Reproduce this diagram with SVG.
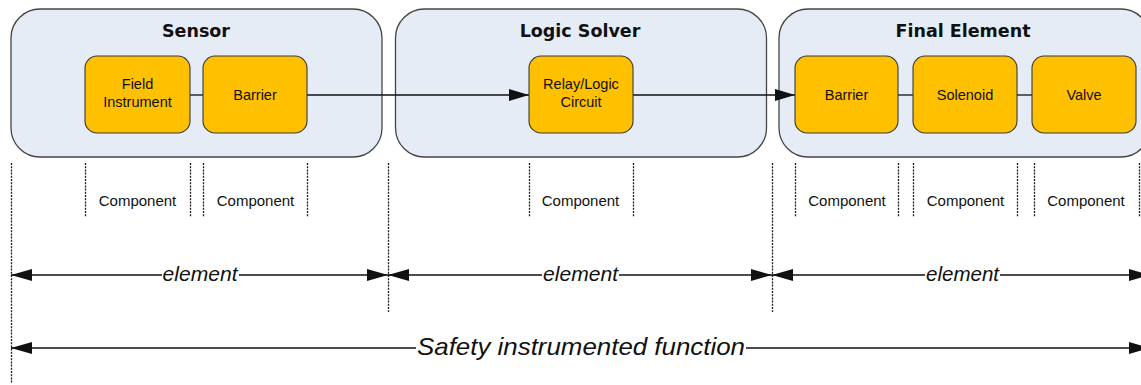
<svg xmlns="http://www.w3.org/2000/svg" width="1141" height="385" viewBox="0 0 1141 385">
  <defs>
    <style>
      .stage { fill: #E6ECF6; stroke: #454545; stroke-width: 1.3; }
      .part { fill: #FFC000; stroke: #3A3A3A; stroke-width: 1.1; }
      .title { font-family: "DejaVu Sans", sans-serif; font-weight: bold; font-size: 17.5px; fill: #111; text-anchor: middle; }
      .label { font-family: "Liberation Sans", Arial, sans-serif; font-size: 14.5px; fill: #111; text-anchor: middle; }
      .comp { font-family: "Liberation Sans", Arial, sans-serif; font-size: 15px; fill: #111; text-anchor: middle; }
      .span { font-family: "Liberation Sans", Arial, sans-serif; font-style: italic; fill: #111; text-anchor: middle; }
      .link { stroke: #111; stroke-width: 1.3; fill: none; }
      .dots { stroke: #1A1A1A; stroke-width: 1.3; stroke-dasharray: 2 1.2; fill: none; }
      .dim { stroke: #111; stroke-width: 1.3; fill: none; }
    </style>
    <marker id="flowHead" viewBox="0 0 20 12" refX="20" refY="6" markerWidth="20" markerHeight="12" markerUnits="userSpaceOnUse" orient="auto">
      <path d="M0,0 L20,6 L0,12 Z" fill="#111"/>
    </marker>
    <marker id="dimEnd" viewBox="0 0 21 12" refX="21" refY="6" markerWidth="21" markerHeight="12" markerUnits="userSpaceOnUse" orient="auto">
      <path d="M0,0 L21,6 L0,12 Z" fill="#111"/>
    </marker>
    <marker id="dimStart" viewBox="0 0 21 12" refX="0" refY="6" markerWidth="21" markerHeight="12" markerUnits="userSpaceOnUse" orient="auto">
      <path d="M21,0 L0,6 L21,12 Z" fill="#111"/>
    </marker>
  </defs>

  <rect width="1141" height="385" fill="#FFFFFF"/>

  <!-- stage containers -->
  <g id="sensor">
    <rect class="stage" x="11" y="9" width="371" height="148" rx="29"/>
    <text class="title" x="196" y="37">Sensor</text>
  </g>
  <g id="logic-solver">
    <rect class="stage" x="395.5" y="9" width="371" height="148" rx="29"/>
    <text class="title" x="580" y="37">Logic Solver</text>
  </g>
  <g id="final-element">
    <rect class="stage" x="779" y="9" width="371" height="148" rx="29"/>
    <text class="title" x="963" y="37">Final Element</text>
  </g>

  <!-- connectors between parts -->
  <g id="connectors">
    <line class="link" x1="190" y1="95" x2="203" y2="95"/>
    <line class="link" x1="307" y1="95" x2="529" y2="95" marker-end="url(#flowHead)"/>
    <line class="link" x1="633" y1="95" x2="795" y2="95" marker-end="url(#flowHead)"/>
    <line class="link" x1="898" y1="95" x2="913" y2="95"/>
    <line class="link" x1="1017" y1="95" x2="1032" y2="95"/>
  </g>

  <!-- parts -->
  <g id="field-instrument">
    <rect class="part" x="85" y="56" width="105" height="77" rx="12"/>
    <text class="label" x="137.5" y="89">Field</text>
    <text class="label" x="137.5" y="107">Instrument</text>
  </g>
  <g id="sensor-barrier">
    <rect class="part" x="203" y="56" width="104" height="77" rx="12"/>
    <text class="label" x="255" y="100">Barrier</text>
  </g>
  <g id="relay-logic">
    <rect class="part" x="529" y="56" width="104" height="77" rx="12"/>
    <text class="label" x="581" y="89">Relay/Logic</text>
    <text class="label" x="581" y="107">Circuit</text>
  </g>
  <g id="final-barrier">
    <rect class="part" x="795" y="56" width="103" height="77" rx="12"/>
    <text class="label" x="846.5" y="100">Barrier</text>
  </g>
  <g id="solenoid">
    <rect class="part" x="913" y="56" width="104" height="77" rx="12"/>
    <text class="label" x="965" y="100">Solenoid</text>
  </g>
  <g id="valve">
    <rect class="part" x="1032" y="56" width="104" height="77" rx="12"/>
    <text class="label" x="1084" y="100">Valve</text>
  </g>

  <!-- component extents -->
  <g id="component-marks">
    <path class="dots" d="M85.5,163 V217 M190.5,163 V217 M203.5,163 V217 M307.5,163 V217
                          M529.5,163 V217 M633.5,163 V217
                          M795.5,163 V217 M898.5,163 V217 M913.5,163 V217 M1017.5,163 V217 M1034.5,163 V217 M1139.5,163 V217"/>
    <text class="comp" x="137.5" y="206">Component</text>
    <text class="comp" x="255.5" y="206">Component</text>
    <text class="comp" x="580.5" y="206">Component</text>
    <text class="comp" x="847" y="206">Component</text>
    <text class="comp" x="965.5" y="206">Component</text>
    <text class="comp" x="1086" y="206">Component</text>
  </g>

  <!-- element and function extents -->
  <g id="extent-marks">
    <path class="dots" d="M11.5,163 V383 M388.5,163 V312 M772.5,163 V312"/>
    <line class="dim" x1="11" y1="275" x2="162" y2="275" marker-start="url(#dimStart)"/>
    <line class="dim" x1="239" y1="275" x2="388" y2="275" marker-end="url(#dimEnd)"/>
    <text class="span" x="200" y="281" font-size="20" textLength="75" lengthAdjust="spacingAndGlyphs">element</text>

    <line class="dim" x1="388" y1="275" x2="542" y2="275" marker-start="url(#dimStart)"/>
    <line class="dim" x1="619" y1="275" x2="772" y2="275" marker-end="url(#dimEnd)"/>
    <text class="span" x="580.5" y="281" font-size="20" textLength="75" lengthAdjust="spacingAndGlyphs">element</text>

    <line class="dim" x1="772" y1="275" x2="925" y2="275" marker-start="url(#dimStart)"/>
    <line class="dim" x1="1000" y1="275" x2="1150" y2="275" marker-end="url(#dimEnd)"/>
    <text class="span" x="962.5" y="281" font-size="20" textLength="73" lengthAdjust="spacingAndGlyphs">element</text>

    <line class="dim" x1="11" y1="348" x2="416" y2="348" marker-start="url(#dimStart)"/>
    <line class="dim" x1="746" y1="348" x2="1150" y2="348" marker-end="url(#dimEnd)"/>
    <text class="span" x="581" y="355" font-size="24" textLength="328" lengthAdjust="spacingAndGlyphs">Safety instrumented function</text>
  </g>
</svg>
